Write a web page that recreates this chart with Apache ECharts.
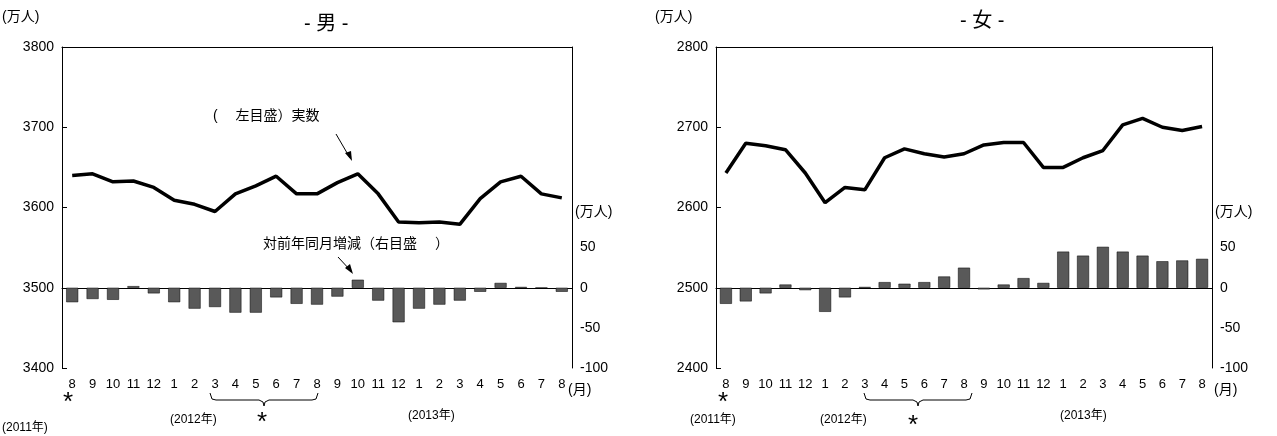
<!DOCTYPE html><html><head><meta charset="utf-8">
<script src="https://cdn.jsdelivr.net/npm/echarts@6/dist/echarts.min.js"></script>
<style>body{margin:0}#c{width:1277px;height:436px}</style></head><body><div id="c"></div>
<script>
const months=['8','9','10','11','12','1','2','3','4','5','6','7','8','9','10','11','12','1','2','3','4','5','6','7','8'];
const maleLevel=[3640,3642,3632,3633,3625,3609,3604,3595,3617,3627,3639,3617,3617,3631,3642,3617,3582,3581,3582,3579,3611,3632,3639,3617,3612];
const maleChange=[-18,-14,-15,2,-7,-18,-26,-24,-31,-31,-12,-20,-21,-11,10,-16,-43,-26,-21,-16,-5,6,1,0,-5];
const femaleLevel=[2643,2680,2677,2672,2643,2606,2625,2622,2662,2673,2667,2663,2667,2678,2681,2681,2650,2650,2662,2671,2703,2711,2700,2696,2701];
const femaleChange=[-20,-17,-7,4,-3,-30,-12,1,7,5,7,14,25,-2,4,12,6,45,40,51,45,40,33,34,36];
const F='Liberation Sans, Noto Sans CJK JP, sans-serif';
const ch=echarts.init(document.getElementById('c'));
const ax={axisLine:{show:true,lineStyle:{color:'#000'}},axisTick:{show:true,inside:true,lineStyle:{color:'#000'}},axisLabel:{color:'#000',fontSize:14,fontFamily:F},splitLine:{show:false}};
function xa(i){return Object.assign({},ax,{type:'category',gridIndex:i,data:months,position:'bottom',axisTick:{show:false},axisLabel:{color:'#000',fontSize:13,fontFamily:F,interval:0,margin:10}});}
function xt(i){return {type:'category',gridIndex:i,data:months,position:'top',axisLine:{show:true,lineStyle:{color:'#000'}},axisTick:{show:false},axisLabel:{show:false}};}
function yl(i,min,max){return Object.assign({},ax,{type:'value',gridIndex:i,min:min,max:max,interval:100,axisLabel:{color:'#000',fontSize:14,fontFamily:F,formatter:v=>String(v)}});}
function yr(i){return Object.assign({},ax,{type:'value',gridIndex:i,min:-100,max:300,interval:50,position:'right',axisTick:{show:false},axisLabel:{color:'#000',fontSize:14,fontFamily:F,formatter:v=>v>50?'':String(v)}});}
const grids=[{left:62,top:47,width:510,height:321},{left:716,top:47,width:496,height:321}];
const t=(x,y,s,fs)=>({type:'text',x:x,y:y,style:{text:s,fontSize:fs||14,fontFamily:F,fill:'#000'}});
function brace(x1,x2,y){const m=(x1+x2)/2;return {type:'polyline',shape:{points:[[x1,y-7],[x1+2,y-1],[x1+6,y],[m-5,y],[m-1,y+2],[m,y+6],[m+1,y+2],[m+5,y],[x2-6,y],[x2-2,y-1],[x2,y-7]]},style:{stroke:'#000',fill:null,lineWidth:1}};}
ch.setOption({animation:false,grid:grids,
xAxis:[xa(0),xa(1),xt(0),xt(1)],
yAxis:[yl(0,3400,3800),yr(0),yl(1,2400,2800),yr(1)],
series:[
{type:'bar',xAxisIndex:0,yAxisIndex:1,data:maleChange,barWidth:12,itemStyle:{color:'#595959',borderColor:'#000',borderWidth:0.5}},
{type:'line',xAxisIndex:0,yAxisIndex:0,data:maleLevel,symbol:'none',lineStyle:{color:'#000',width:3.5}},
{type:'bar',xAxisIndex:1,yAxisIndex:3,data:femaleChange,barWidth:12,itemStyle:{color:'#595959',borderColor:'#000',borderWidth:0.5}},
{type:'line',xAxisIndex:1,yAxisIndex:2,data:femaleLevel,symbol:'none',lineStyle:{color:'#000',width:3.5}}],
graphic:[
t(2,10,'(万人)'),t(655,10,'(万人)'),
t(304,14,'- 男 -',20),t(960,11,'- 女 -',20),
t(575,205,'(万人)'),t(1215,205,'(万人)'),
t(568,383,'(月)'),t(1214,383,'(月)'),
t(213,109,'(　 左目盛）実数'),t(263,237,'対前年同月増減（右目盛　 ）'),
{type:'line',shape:{x1:336,y1:134,x2:350,y2:158},style:{stroke:'#000',lineWidth:1}},
{type:'polygon',shape:{points:[[352,161],[345,153],[351,151]]},style:{fill:'#000'}},
{type:'line',shape:{x1:338,y1:257,x2:351,y2:271},style:{stroke:'#000',lineWidth:1}},
{type:'polygon',shape:{points:[[353,274],[345,268],[350,264]]},style:{fill:'#000'}},
t(63,390,'*',26),t(257,410,'*',26),t(718,390,'*',26),t(908,413,'*',26),
brace(210,318,400),brace(864,972,400),
t(2,422,'(2011年)',12),t(170,414,'(2012年)',12),t(408,410,'(2013年)',12),
t(690,414,'(2011年)',12),t(820,414,'(2012年)',12),t(1060,410,'(2013年)',12)
]});
</script></body></html>
